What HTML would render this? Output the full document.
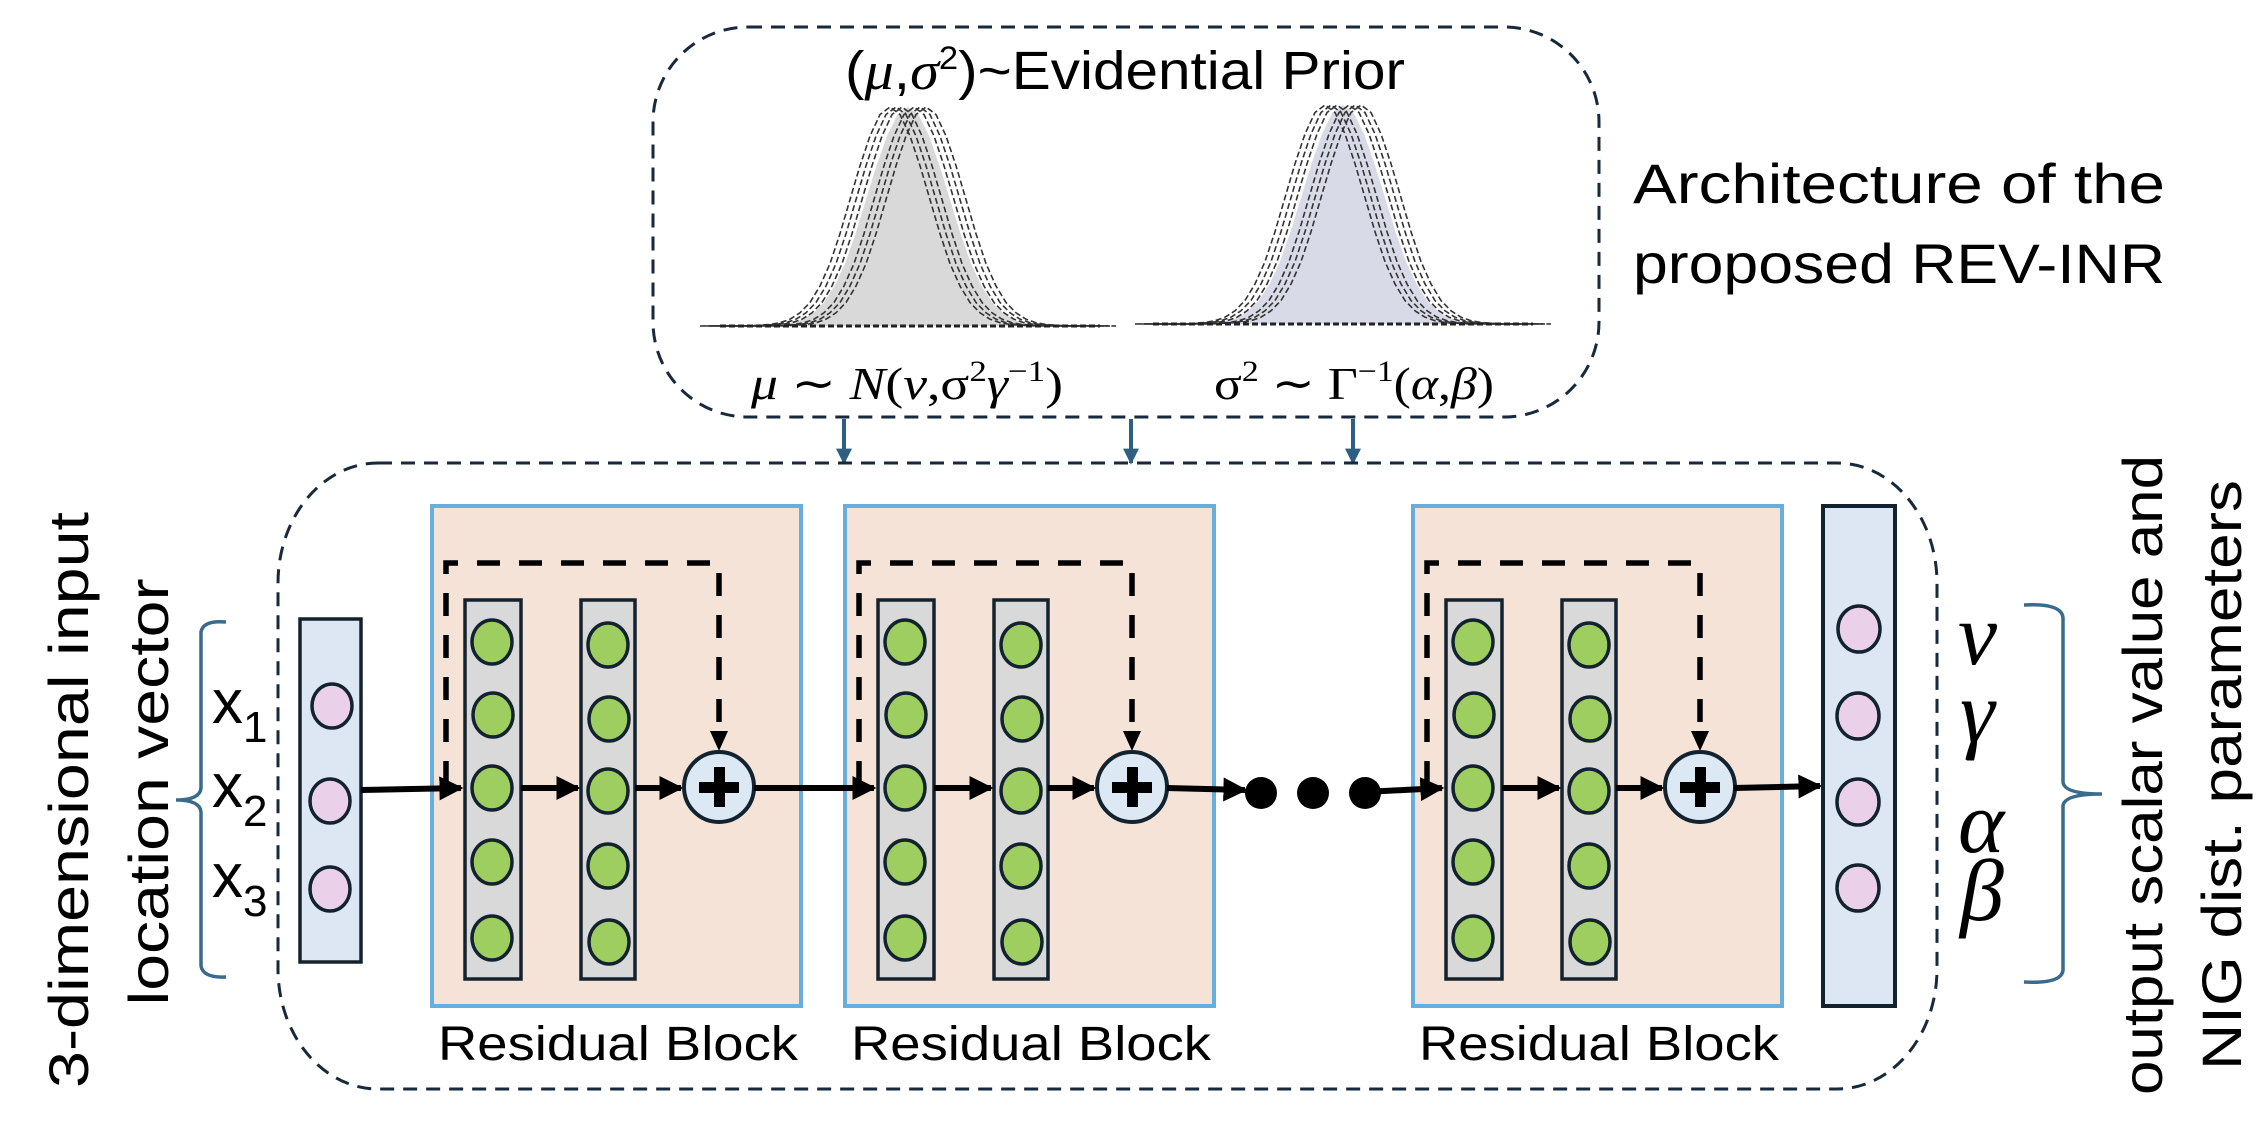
<!DOCTYPE html>
<html><head><meta charset="utf-8"><style>
html,body{margin:0;padding:0;background:#fff;}
svg{display:block;}
</style></head><body>
<svg width="2268" height="1148" viewBox="0 0 2268 1148" xmlns="http://www.w3.org/2000/svg">
<defs>
<path id="g" d="M-190,0 L-140,-0.2 L-120,-1.5 L-110,-3.3 L-100,-6.8 L-90,-13.2 L-80,-23.5 L-70,-40 L-60,-62.4 L-50,-92.3 L-40,-126.4 L-30,-160.3 L-20,-190 L-10,-211.5 L0,-219 L10,-211.5 L20,-190 L30,-160.3 L40,-126.4 L50,-92.3 L60,-62.4 L70,-40 L80,-23.5 L90,-13.2 L100,-6.8 L110,-3.3 L120,-1.5 L140,-0.2 L190,0"/>
<marker id="ah" viewBox="0 0 10 10" refX="9" refY="5" markerWidth="4" markerHeight="4" markerUnits="strokeWidth" orient="auto"><path d="M0,0 L10,5 L0,10 z" fill="#000"/></marker>
<marker id="ab" viewBox="0 0 10 10" refX="9" refY="5" markerWidth="4" markerHeight="4" markerUnits="strokeWidth" orient="auto"><path d="M0,0 L10,5 L0,10 z" fill="#2e5f80"/></marker>
</defs>

<rect x="653" y="27" width="946" height="390" rx="95" ry="95" fill="none" stroke="#17293a" stroke-width="3" stroke-dasharray="14 9"/>
<text x="1125" y="89" font-family="Liberation Sans, sans-serif" font-size="54" text-anchor="middle" textLength="560" lengthAdjust="spacingAndGlyphs">(<tspan font-family="Liberation Serif, serif" font-style="italic">μ</tspan>,<tspan font-family="Liberation Serif, serif" font-style="italic">σ</tspan><tspan font-size="32" dy="-20">2</tspan><tspan dy="20">)~Evidential Prior</tspan></text>

<g transform="translate(908,326)">
<use href="#g" transform="scale(1.2,1)" fill="#fff" stroke="none"/>
<use href="#g" transform="scale(1.05,1)" fill="#d9d9d9" stroke="none"/>
<g fill="none" stroke="#333" stroke-width="1.6" stroke-dasharray="6 3">
<use href="#g" transform="translate(-18,0)"/><use href="#g" transform="translate(-12,0)"/><use href="#g" transform="translate(-6,0)"/>
<use href="#g" transform="translate(6,0)"/><use href="#g" transform="translate(12,0)"/><use href="#g" transform="translate(18,0)"/>
</g>
<line x1="-188" y1="0" x2="192" y2="0" stroke="#222" stroke-width="3" stroke-dasharray="6 3"/>
</g>
<g transform="translate(1343,324)">
<use href="#g" transform="scale(1.05,1)" fill="#d8dbe7" stroke="none"/>
<g fill="none" stroke="#333" stroke-width="1.6" stroke-dasharray="6 3">
<use href="#g" transform="translate(-18,0)"/><use href="#g" transform="translate(-12,0)"/><use href="#g" transform="translate(-6,0)"/>
<use href="#g" transform="translate(6,0)"/><use href="#g" transform="translate(12,0)"/><use href="#g" transform="translate(18,0)"/>
</g>
<line x1="-190" y1="0" x2="190" y2="0" stroke="#222" stroke-width="3" stroke-dasharray="6 3"/>
</g>

<text x="751" y="399" font-family="Liberation Serif, serif" font-size="46" textLength="312" lengthAdjust="spacingAndGlyphs"><tspan font-style="italic">μ</tspan> ∼ <tspan font-style="italic">N</tspan>(<tspan font-style="italic">v</tspan>,σ<tspan font-size="30" dy="-18">2</tspan><tspan dy="18" font-style="italic">γ</tspan><tspan font-size="30" dy="-18">−1</tspan><tspan dy="18">)</tspan></text>
<text x="1214" y="399" font-family="Liberation Serif, serif" font-size="46" textLength="280" lengthAdjust="spacingAndGlyphs">σ<tspan font-size="30" dy="-18">2</tspan><tspan dy="18"> ∼ Γ</tspan><tspan font-size="30" dy="-18">−1</tspan><tspan dy="18">(</tspan><tspan font-style="italic">α</tspan>,<tspan font-style="italic">β</tspan>)</text>

<g stroke="#2e5f80" stroke-width="4" marker-end="url(#ab)">
<line x1="844" y1="419" x2="844" y2="463"/>
<line x1="1131" y1="419" x2="1131" y2="463"/>
<line x1="1353" y1="419" x2="1353" y2="463"/>
</g>

<text x="1633" y="203" font-family="Liberation Sans, sans-serif" font-size="56" textLength="532" lengthAdjust="spacingAndGlyphs">Architecture of the</text>
<text x="1633" y="283" font-family="Liberation Sans, sans-serif" font-size="56" textLength="532" lengthAdjust="spacingAndGlyphs">proposed REV-INR</text>

<rect x="278" y="463" width="1659" height="626" rx="100" ry="120" fill="none" stroke="#17293a" stroke-width="3" stroke-dasharray="14 9"/>

<text transform="translate(88,800) rotate(-90)" font-family="Liberation Sans, sans-serif" font-size="56" text-anchor="middle" textLength="576" lengthAdjust="spacingAndGlyphs">3-dimensional input</text>
<text transform="translate(168,792) rotate(-90)" font-family="Liberation Sans, sans-serif" font-size="56" text-anchor="middle" textLength="427" lengthAdjust="spacingAndGlyphs">location vector</text>
<text transform="translate(2162,775) rotate(-90)" font-family="Liberation Sans, sans-serif" font-size="56" text-anchor="middle" textLength="640" lengthAdjust="spacingAndGlyphs">output scalar value and</text>
<text transform="translate(2241,775) rotate(-90)" font-family="Liberation Sans, sans-serif" font-size="56" text-anchor="middle" textLength="590" lengthAdjust="spacingAndGlyphs">NIG dist. parameters</text>

<path d="M226,622 Q203,620 201,632 L201,788 Q200,800 176,800 Q200,800 201,812 L201,966 Q203,978 226,977" fill="none" stroke="#3a6a8c" stroke-width="3.5"/>
<path d="M2024,605 Q2062,603 2063,618 L2063,782 Q2064,794 2102,794 Q2064,794 2063,806 L2063,970 Q2062,984 2024,982" fill="none" stroke="#3a6a8c" stroke-width="3.5"/>

<g font-family="Liberation Sans, sans-serif" font-size="62">
<text x="212" y="723">x<tspan font-size="44" dy="19">1</tspan></text>
<text x="212" y="807">x<tspan font-size="44" dy="19">2</tspan></text>
<text x="212" y="897">x<tspan font-size="44" dy="19">3</tspan></text>
</g>

<rect x="300" y="619" width="61" height="343" fill="#dde7f4" stroke="#13222f" stroke-width="3.5"/>
<g fill="#ebd0ea" stroke="#13222f" stroke-width="3.5">
<ellipse cx="332" cy="706" rx="20" ry="22"/><ellipse cx="330" cy="801" rx="20" ry="22"/><ellipse cx="330" cy="889" rx="20" ry="22"/>
</g>

<g id="rb">
<rect x="432" y="506" width="369" height="500" fill="#f6e3d7" stroke="#66aedc" stroke-width="4"/>
<rect x="465" y="600" width="56" height="379" fill="#d9d9d9" stroke="#13222f" stroke-width="3.5"/>
<rect x="581" y="600" width="54" height="379" fill="#d9d9d9" stroke="#13222f" stroke-width="3.5"/>
<g fill="#9ecd60" stroke="#13222f" stroke-width="3.5">
<ellipse cx="492" cy="642" rx="20" ry="22"/><ellipse cx="493" cy="715" rx="20" ry="22"/><ellipse cx="492" cy="788" rx="20" ry="22"/><ellipse cx="492" cy="862" rx="20" ry="22"/><ellipse cx="492" cy="938" rx="20" ry="22"/>
<ellipse cx="608" cy="645" rx="20" ry="22"/><ellipse cx="609" cy="719" rx="20" ry="22"/><ellipse cx="608" cy="791" rx="20" ry="22"/><ellipse cx="608" cy="866" rx="20" ry="22"/><ellipse cx="609" cy="942" rx="20" ry="22"/>
</g>
<path d="M446,784 L446,563 L719,563 L719,738" fill="none" stroke="#000" stroke-width="5.5" stroke-dasharray="23 19" />
<path d="M710,731 L728,731 L719,751 z" fill="#000"/>
<line x1="521" y1="788" x2="578" y2="788" stroke="#000" stroke-width="6" marker-end="url(#ah)"/>
<line x1="635" y1="788" x2="681" y2="788" stroke="#000" stroke-width="6" marker-end="url(#ah)"/>
<circle cx="719" cy="787" r="35" fill="#dde8f5" stroke="#13222f" stroke-width="4"/>
<rect x="699" y="782" width="40" height="11" fill="#000"/><rect x="714" y="767" width="11" height="40" fill="#000"/>
<text x="618" y="1060" font-family="Liberation Sans, sans-serif" font-size="48" text-anchor="middle" textLength="360" lengthAdjust="spacingAndGlyphs">Residual Block</text>
</g>
<use href="#rb" transform="translate(413,0)"/>
<use href="#rb" transform="translate(981,0)"/>

<g stroke="#000" stroke-width="6" marker-end="url(#ah)">
<line x1="361" y1="790" x2="461" y2="788"/>
<line x1="754" y1="788" x2="874" y2="788"/>
<line x1="1167" y1="788" x2="1245" y2="790"/>
<line x1="1365" y1="792" x2="1442" y2="788"/>
<line x1="1734" y1="788" x2="1820" y2="786"/>
</g>
<g fill="#000"><circle cx="1261" cy="793" r="16"/><circle cx="1313" cy="793" r="16"/><circle cx="1365" cy="793" r="16"/></g>

<rect x="1823" y="506" width="72" height="500" fill="#dde7f4" stroke="#13222f" stroke-width="4"/>
<g fill="#ebd0ea" stroke="#13222f" stroke-width="3.5">
<ellipse cx="1859" cy="629" rx="21" ry="23"/><ellipse cx="1858" cy="716" rx="21" ry="23"/><ellipse cx="1858" cy="802" rx="21" ry="23"/><ellipse cx="1858" cy="888" rx="21" ry="23"/>
</g>

<g font-family="Liberation Serif, serif" font-style="italic" font-size="88">
<text x="1958" y="664">ν</text>
<text x="1960" y="742">γ</text>
<text x="1958" y="852">α</text>
<text x="1960" y="920">β</text>
</g>
</svg>
</body></html>
